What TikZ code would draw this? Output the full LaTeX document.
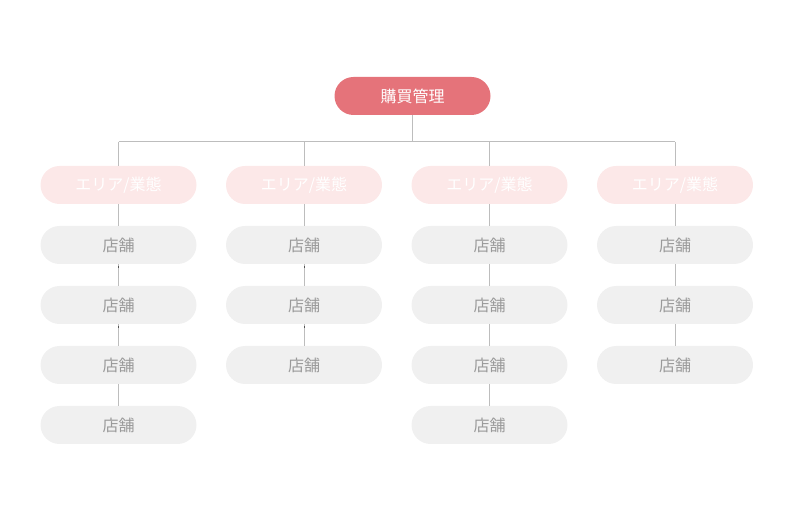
\documentclass[tikz,border=0pt]{standalone}
\usepackage{fontspec}
\setmainfont{Noto Sans CJK JP}
\definecolor{rootc}{HTML}{E5737A}
\definecolor{areac}{HTML}{FCE8E8}
\definecolor{storec}{HTML}{F0F0F0}
\definecolor{linec}{HTML}{BDBDBD}
\definecolor{stubc}{HTML}{555555}
\definecolor{storetxt}{HTML}{9A9A9A}
\begin{document}
\begin{tikzpicture}[x=1pt,y=-1pt,
  pill/.style={rectangle, rounded corners=19pt, draw=none, minimum width=156pt, minimum height=38pt, inner sep=0pt, font=\fontsize{16}{19}\selectfont},
  rootbox/.style={pill, fill=rootc, text=white},
  areabox/.style={pill, fill=areac, text=white},
  storebox/.style={pill, fill=storec, text=storetxt},
  conn/.style={draw=linec, line width=1pt},
  stub/.style={draw=stubc, line width=1pt}]
\useasboundingbox (0,0) rectangle (790,526);
\node[rootbox] (root) at (412.5,96) {購買管理};
\foreach \i/\x in {1/118.5,2/304,3/489.5,4/675}{
  \node[areabox] (a\i) at (\x,185) {エリア/業態};
}
\foreach \i/\x/\n in {1/118.5/4,2/304/3,3/489.5/4,4/675/3}{
  \foreach \j in {1,...,\n}{
    \node[storebox] (s\i\j) at (\x,{185+60*\j}) {店舗};
  }
}
\coordinate (bus) at (412.5,142);
\coordinate (b1) at (118.5,142);
\coordinate (b4) at (675,142);
\draw[conn] (root.south) -- (bus);
\draw[conn] (b1) -- (b4);
\foreach \i in {1,...,4}{
  \draw[conn] (a\i.north |- bus) -- (a\i.north);
  \draw[conn] (a\i.south) -- (s\i1.north);
}
\foreach \i/\n in {1/3,2/2,3/3,4/2}{
  \foreach \j in {1,...,\n}{
    \pgfmathtruncatemacro{\k}{\j+1}
    \draw[conn] (s\i\j.south) -- (s\i\k.north);
  }
}
\foreach \i/\j in {1/1,1/2,2/1,2/2}{
  \draw[stub] (s\i\j.south) ++(0,1.5) -- ++(0,2.5);
}
\end{tikzpicture}
\end{document}
